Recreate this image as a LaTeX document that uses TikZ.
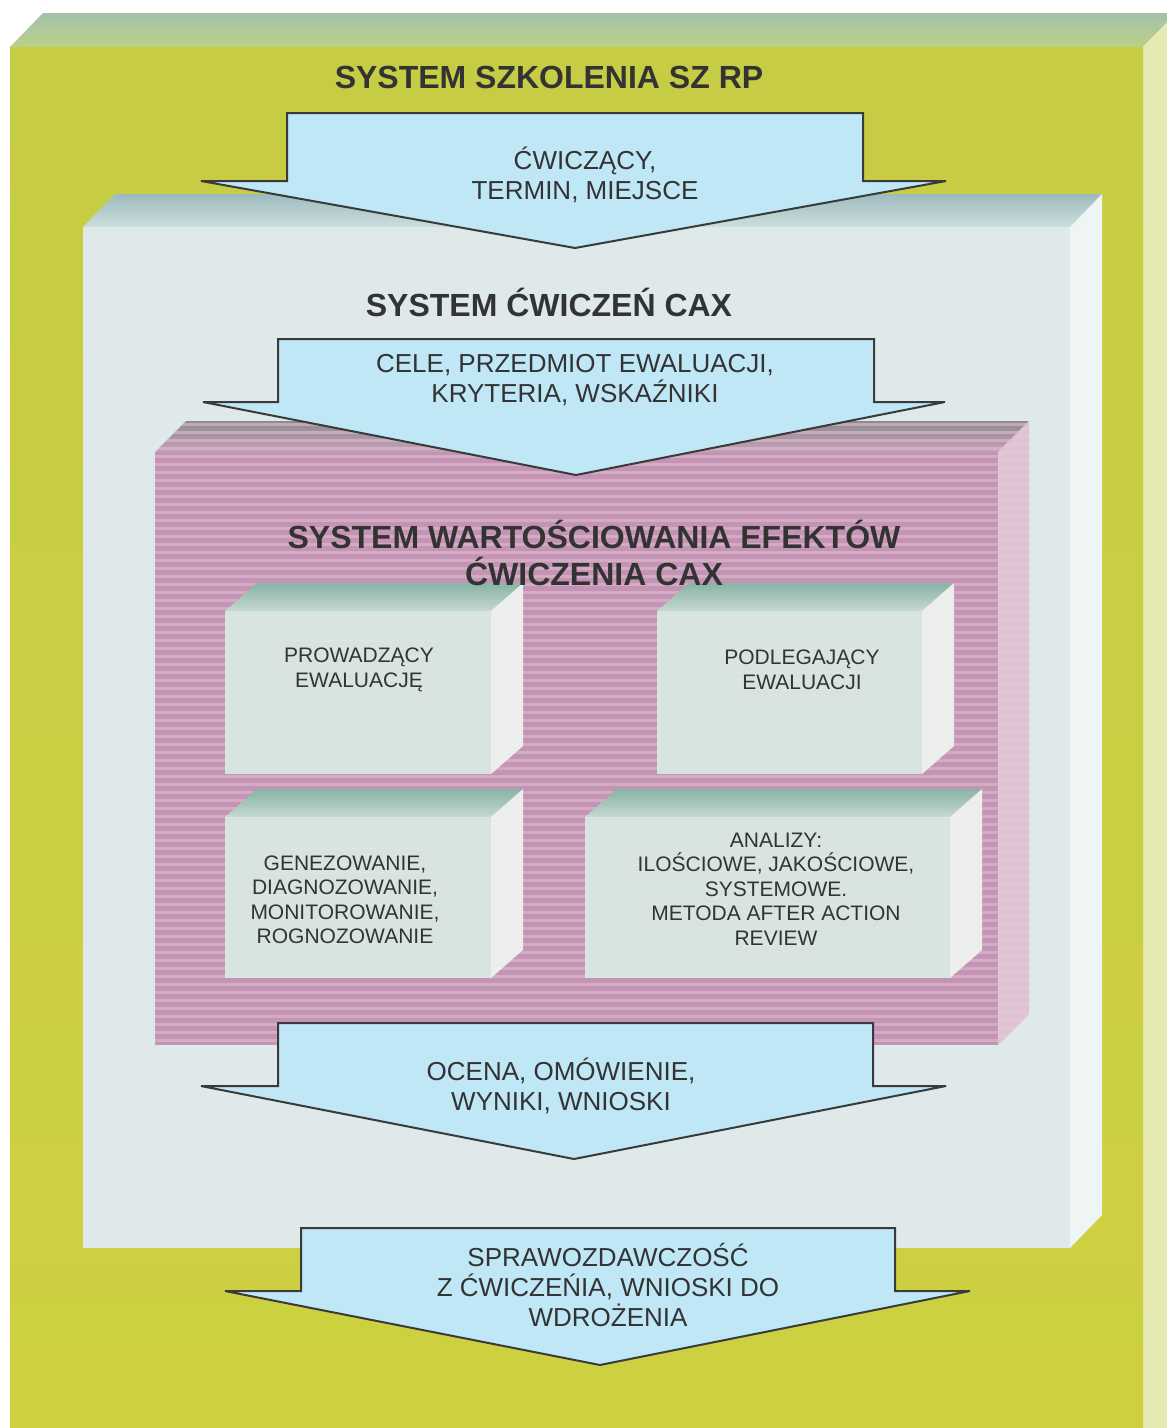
\documentclass[tikz,border=0pt]{standalone}
\usepackage{fontspec}
\setmainfont{Liberation Sans}
\usetikzlibrary{calc}

% colours
\definecolor{txt}{HTML}{333333}
\definecolor{olvFront}{HTML}{C6CC44}
\definecolor{olvFrontB}{HTML}{CDD140}
\definecolor{olvTopBack}{HTML}{A3C2AC}
\definecolor{olvTopFront}{HTML}{BCD086}
\definecolor{olvSide}{HTML}{E4EAB0}
\definecolor{midFront}{HTML}{DFE9E9}
\definecolor{midTopBack}{HTML}{9DBBBE}
\definecolor{midTopFront}{HTML}{CCDEDE}
\definecolor{midSide}{HTML}{EFF4F4}
\definecolor{pnkFront}{HTML}{C593B3}
\definecolor{pnkStripe}{HTML}{DCBED0}
\definecolor{pnkTopBack}{HTML}{8F8A91}
\definecolor{pnkTopFront}{HTML}{C7A0B8}
\definecolor{pnkSide}{HTML}{E2C6D7}
\definecolor{cubFront}{HTML}{DAE9E3}
\definecolor{cubTopBack}{HTML}{84B6A4}
\definecolor{cubTopFront}{HTML}{C6DDD3}
\definecolor{cubSide}{HTML}{EFF4F0}
\definecolor{arrFill}{HTML}{BFE7F6}
\definecolor{arrLine}{HTML}{3A3A3A}

% cuboid: front face corners (#1,#2)-(#3,#4), depth (#5,#6), colour prefix #7, opacity #8
\newcommand\cuboid[8]{%
  \shade[top color=#7TopBack, bottom color=#7TopFront, opacity=#8]
    (#1,#2) -- (#1+#5,#2-#6) -- (#3+#5,#2-#6) -- (#3,#2) -- cycle;
  \fill[#7Side, opacity=#8]
    (#3,#2) -- (#3+#5,#2-#6) -- (#3+#5,#4-#6) -- (#3,#4) -- cycle;
  \fill[#7Front, opacity=#8] (#1,#2) rectangle (#3,#4);
}

% downward block arrow: shaft x #1..#2, top #3, shoulder #4, head x #5..#6, tip (#7,#8)
\newcommand\blockarrow[8]{%
  \filldraw[arrowbody]
    (#1,#3) -- (#2,#3) -- (#2,#4) -- (#6,#4) -- (#7,#8) -- (#5,#4) -- (#1,#4) -- cycle;
}

\tikzset{
  arrowbody/.style={fill=arrFill, draw=arrLine, line width=2pt, line join=miter},
  titletext/.style={text=txt, font=\fontsize{32}{37}\selectfont\bfseries, align=center, inner sep=0pt},
  arrowtext/.style={text=txt, font=\fontsize{26}{30}\selectfont, align=center, inner sep=0pt},
  cubetext/.style={text=txt, font=\fontsize{21}{24.5}\selectfont, align=center, inner sep=0pt},
}

\begin{document}
\begin{tikzpicture}[x=1pt, y=-1pt]
  \useasboundingbox (0,0) rectangle (1167,1428);
  \clip (0,0) rectangle (1167,1428);
  \fill[white] (0,0) rectangle (1167,1428);

  % outer olive box
  \shade[top color=olvTopBack, bottom color=olvTopFront]
    (10,47) -- (43,13) -- (1176,13) -- (1143,47) -- cycle;
  \fill[olvSide] (1143,47) -- (1176,13) -- (1176,1440) -- (1143,1440) -- cycle;
  \shade[top color=olvFront, bottom color=olvFrontB] (10,47) rectangle (1143,1440);

  % middle light box
  \cuboid{83}{227}{1070}{1248}{32}{33}{mid}{1}

  % pink box with horizontal striping
  \cuboid{155}{452}{998}{1045}{31}{31}{pnk}{1}
  \begin{scope}
    \clip (155,452) -- (186,421) -- (1029,421) -- (1029,1014) -- (998,1045) -- (155,1045) -- cycle;
    \foreach \yy in {424,432,...,1045}
      \draw[pnkStripe, line width=3pt, opacity=0.6] (150,\yy) -- (1035,\yy);
  \end{scope}

  % four inner boxes
  \cuboid{225}{611}{491}{774}{32}{28}{cub}{0.94}
  \cuboid{657}{611}{922}{774}{32}{28}{cub}{0.94}
  \cuboid{225}{817}{491}{978}{32}{28}{cub}{0.94}
  \cuboid{585}{817}{950}{978}{32}{28}{cub}{0.94}

  % titles
  \node[titletext] (szkolenie) at (549,77) {SYSTEM SZKOLENIA SZ RP};
  \node[titletext] (cwiczenia) at (549,302) {SYSTEM ĆWICZEŃ CAX};
  \node[titletext] (wartosc) at (594,553) {SYSTEM WARTOŚCIOWANIA EFEKTÓW\\ĆWICZENIA CAX};

  % inner box labels
  \node[cubetext] (prow) at (359,670) {PROWADZĄCY\\EWALUACJĘ};
  \node[cubetext] (podl) at (802,670) {PODLEGAJĄCY\\EWALUACJI};
  \node[cubetext] (gen) at (345,900) {GENEZOWANIE,\\DIAGNOZOWANIE,\\MONITOROWANIE,\\ROGNOZOWANIE};
  \node[cubetext] (anal) at (776,889) {ANALIZY:\\ILOŚCIOWE, JAKOŚCIOWE,\\SYSTEMOWE.\\METODA AFTER ACTION\\REVIEW};

  % block arrows
  \blockarrow{287}{863}{113}{181}{201}{946}{575}{248}
  \node[arrowtext] (a1) at (585,175) {ĆWICZĄCY,\\TERMIN, MIEJSCE};

  \blockarrow{278}{874}{339}{402}{203}{945}{576}{475}
  \node[arrowtext] (a2) at (575,380) {CELE, PRZEDMIOT EWALUACJI,\\KRYTERIA, WSKAŹNIKI};

  \blockarrow{278}{873}{1023}{1086}{201}{946}{574}{1159}
  \node[arrowtext] (a3) at (561,1086) {OCENA, OMÓWIENIE,\\WYNIKI, WNIOSKI};

  \blockarrow{301}{895}{1228}{1291}{225}{970}{600}{1365}
  \node[arrowtext] (a4) at (608,1285) {SPRAWOZDAWCZOŚĆ\\Z ĆWICZEŃIA, WNIOSKI DO\\WDROŻENIA};
\end{tikzpicture}
\end{document}
